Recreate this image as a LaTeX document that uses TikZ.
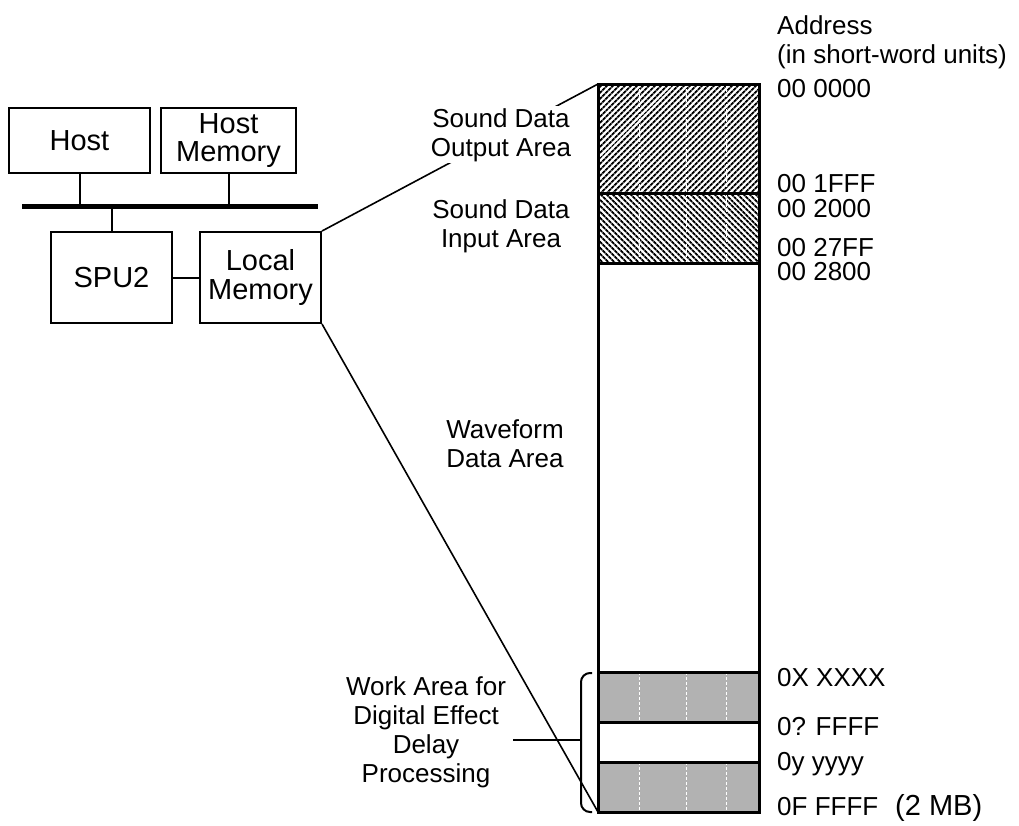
\documentclass[tikz,border=0pt]{standalone}
\usepackage{fontspec}
\setmainfont{Liberation Sans}
\usetikzlibrary{patterns.meta}
\tikzset{
	unit/.style={draw,line width=2pt,inner sep=0pt,align=center,font=\fontsize{29}{28.5}\selectfont},
	area/.style={anchor=base,align=center,inner sep=0pt},
	addr/.style={anchor=base west,inner sep=0pt},
	bar/.style={line width=3pt},
	link/.style={line width=1.6pt},
	seam/.style={white,line width=0.8pt,dash pattern=on 3pt off 2pt},
}
\begin{document}
\begin{tikzpicture}[x=1pt,y=-1pt,font=\fontsize{26}{29}\selectfont]
	\useasboundingbox (0,0) rectangle (1019,825);
	% blocks and bus
	\node[unit,minimum width=141,minimum height=65] (host) at (79.5,140.5) {Host};
	\node[unit,minimum width=135,minimum height=65] (hmem) at (228.5,140.5) {Host\\Memory};
	\node[unit,minimum width=121,minimum height=91] (spu) at (111.5,277.5) {SPU2};
	\node[unit,minimum width=121,minimum height=91] (lmem) at (260.5,277.5) {Local\\Memory};
	\coordinate (busw) at (22,206);
	\coordinate (buse) at (318,206);
	\draw[line width=5pt] (busw)--(buse);
	\draw[line width=2pt] (host.south)--(host.south |- busw) (hmem.south)--(hmem.south |- busw)
	(spu.north)--(spu.north |- busw) (spu.east)--(lmem.west);
	% memory map
	\coordinate (mtop) at (598,84);
	\coordinate (mbot) at (598,812);
	\path[pattern={Lines[angle=45,distance=4pt,line width=2pt]}] (598,84) rectangle (759,193);
	\path[pattern={Lines[angle=-45,distance=4pt,line width=2pt]}] (598,193) rectangle (759,263);
	\fill[black!30] (598,672) rectangle (759,722) (598,762) rectangle (759,812);
	\foreach \x in {639,686,726}
		\draw[seam] (\x,84)--(\x,263) (\x,672)--(\x,722) (\x,762)--(\x,812);
	\foreach \y in {193,263,672,722,762}
		\draw[bar] (598,\y)--(759,\y);
	\draw[bar] (mtop) rectangle (759,812);
	\draw[link] (lmem.north east)--(mtop);
	\draw[link] (lmem.south east)--(mbot);
	% area labels (base = last line)
	\node[area,fill=white,inner sep=2pt] (out) at (501,156) {Sound Data\\Output Area};
	\node[area] (in) at (501,247) {Sound Data\\Input Area};
	\node[area] (wave) at (505,467) {Waveform\\Data Area};
	\node[area] (work) at (426,782) {Work Area for\\Digital Effect\\Delay\\Processing};
	\coordinate (brk) at (581,740);
	\draw[line width=2pt,rounded corners=9pt] (592,673)--(581,673)--(581,812)--(592,812);
	\draw[line width=2pt] (brk)--([xshift=7pt]brk -| work.east);
	% addresses
	\node[addr] (a0) at (777,34) {Address};
	\node[addr] (a1) at (777,63) {(in short-word units)};
	\node[addr] (a2) at (777,97) {00 0000};
	\node[addr] (a3) at (777,192) {00 1FFF};
	\node[addr] (a4) at (777,217) {00 2000};
	\node[addr] (a5) at (777,256) {00 27FF};
	\node[addr] (a6) at (777,280) {00 2800};
	\node[addr] (a7) at (777,686) {0X XXXX};
	\node[addr] (a8) at (777,735) {0? FFFF};
	\node[addr] (a9) at (777,770) {0y yyyy};
	\node[addr] (a10) at (777,815) {0F FFFF};
	\node[addr,font=\fontsize{29}{29}\selectfont] (a11) at (895,815) {(2 MB)};
\end{tikzpicture}
\end{document}
